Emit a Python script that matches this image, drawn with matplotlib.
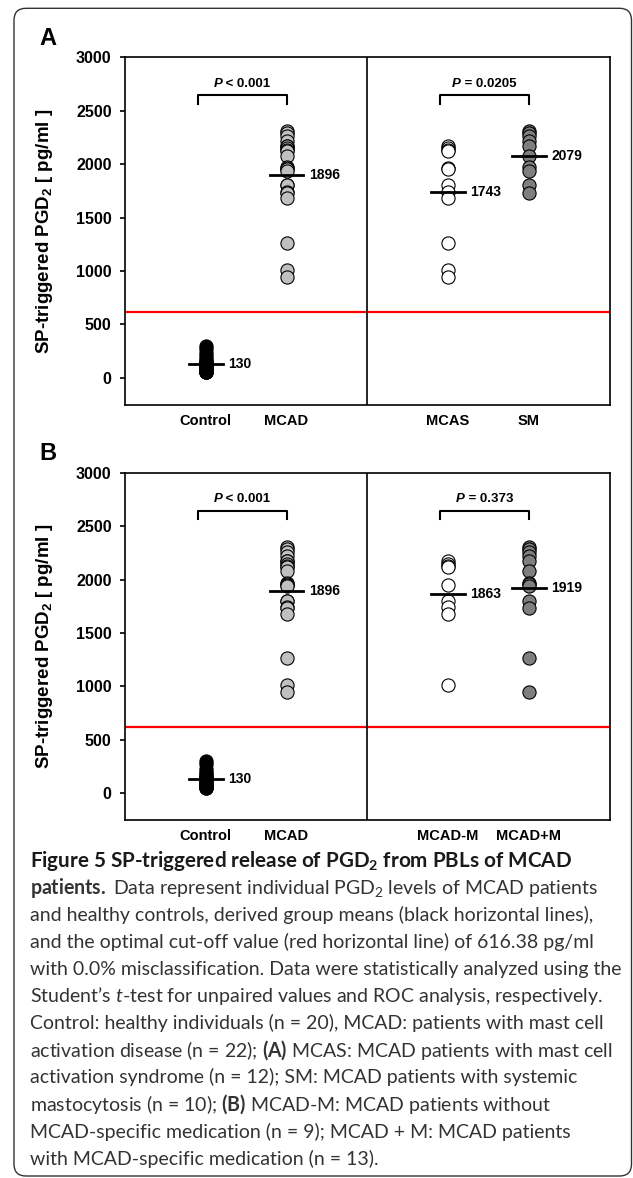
import matplotlib
matplotlib.use('Agg')
import numpy as np
import matplotlib.pyplot as plt
from matplotlib.offsetbox import TextArea, HPacker, AnnotationBbox
from matplotlib.patches import FancyBboxPatch
from matplotlib.transforms import IdentityTransform

plt.rcParams['font.family'] = ['Liberation Sans', 'DejaVu Sans']
plt.rcParams['mathtext.fontset'] = 'custom'
plt.rcParams['mathtext.rm'] = 'Lato'
plt.rcParams['mathtext.bf'] = 'Lato:bold'
plt.rcParams['mathtext.it'] = 'Lato:italic'
plt.rcParams['mathtext.default'] = 'regular'

# --- data (pg/ml)
control = [300, 270, 230, 200, 180, 160, 150, 140, 130, 120,
           110, 100, 90, 80, 70, 60, 55, 55, 50, 50]
mcas = [2170, 2150, 2130, 2120, 1960, 1950, 1800, 1740, 1680, 1265, 1010, 945]
sm = [2310, 2290, 2260, 2220, 2170, 2080, 1970, 1940, 1800, 1730]
mcad = [2310, 2290, 2260, 2220, 2170, 2170, 2150, 2130, 2120, 2080, 1970,
        1960, 1950, 1940, 1800, 1800, 1740, 1730, 1680, 1265, 1010, 945]
mcad_minus_m = [2170, 2150, 2130, 2120, 1950, 1800, 1740, 1680, 1010]
mcad_plus_m = [2310, 2290, 2260, 2220, 2170, 2080, 1970, 1960, 1940,
               1800, 1730, 1265, 945]

means_a = [130, 1896, 1743, 2079]
means_b = [130, 1896, 1863, 1919]
labels_a = ['Control', 'MCAD', 'MCAS', 'SM']
labels_b = ['Control', 'MCAD', 'MCAD-M', 'MCAD+M']
pvals_a = ['< 0.001', '= 0.0205']
pvals_b = ['< 0.001', '= 0.373']
cutoff = 616.38

positions = [1, 2, 4, 5]
colors = ['black', '#c0c0c0', 'white', '#7f7f7f']

W, H = 633, 1178
fig = plt.figure(figsize=(W / 100, H / 100), dpi=100)


def panel(rect, groups, means, labels, pvals, letter, letter_y):
    ax = fig.add_axes(rect)
    for x, vals, c, m in zip(positions, groups, colors, means):
        ax.scatter(np.full(len(vals), x), vals, s=90, facecolor=c,
                   edgecolor='black', linewidth=0.8, zorder=3)
        ax.plot([x - 0.21, x + 0.21], [m, m], color='black', lw=2, zorder=4)
        ax.text(x + 0.28, m, str(m), ha='left', va='center',
                fontsize=10, weight='bold')
    ax.axhline(cutoff, color='#ff0000', lw=1.6, zorder=2)
    ax.axvline(3, color='black', lw=1.2)
    for (x0, x1), p in zip([(0.9, 2.0), (3.9, 5.0)], pvals):
        ax.plot([x0, x0, x1, x1], [2565, 2645, 2645, 2565], color='black', lw=1.5)
        box = HPacker(children=[
            TextArea('P', textprops=dict(style='italic', weight='bold', fontsize=9.5)),
            TextArea(' ' + p, textprops=dict(weight='bold', fontsize=9.5))],
            pad=0, sep=0, align='baseline')
        ax.add_artist(AnnotationBbox(box, ((x0 + x1) / 2, 2752), frameon=False,
                                     box_alignment=(0.5, 0.5)))
    ax.set_xlim(0, 6)
    ax.set_ylim(-250, 3000)
    ax.set_yticks(range(0, 3001, 500))
    ax.set_xticks(positions)
    ax.set_xticklabels(labels, fontsize=10.5, weight='bold')
    for t in ax.get_yticklabels():
        t.set_fontsize(11.5)
        t.set_fontweight('bold')
    ax.tick_params(axis='x', length=0, pad=6.5)
    ax.tick_params(axis='y', length=3.6, width=1.2, pad=6)
    for s in ax.spines.values():
        s.set_linewidth(1.2)
    ax.set_ylabel('SP-triggered PGD$_2$ [ pg/ml ]', fontsize=13.5, weight='bold')
    ax.yaxis.set_label_coords(-0.145, 0.5)
    fig.text(39 / W, 1 - letter_y / H, letter, fontsize=17, weight='bold',
             ha='left', va='baseline')
    return ax


left, width = 125 / W, 484.5 / W
height = 347.2 / H
panel([left, 1 - 404.5 / H, width, height], [control, mcad, mcas, sm],
      means_a, labels_a, pvals_a, 'A', 45)
panel([left, 1 - 820 / H, width, height], [control, mcad, mcad_minus_m, mcad_plus_m],
      means_b, labels_b, pvals_b, 'B', 460)

# caption
title = 'Figure 5 SP-triggered release of PGD$_2$ from PBLs of MCAD'
body = [
    '$\\mathbf{patients.}$Data represent individual PGD$_2$ levels of MCAD patients',
    'and healthy controls, derived group means (black horizontal lines),',
    'and the optimal cut-off value (red horizontal line) of 616.38 pg/ml',
    'with 0.0% misclassification. Data were statistically analyzed using the',
    'Student\u2019s $\\mathit{t}$-test for unpaired values and ROC analysis, respectively.',
    'Control: healthy individuals (n = 20), MCAD: patients with mast cell',
    'activation disease (n = 22); $\\mathbf{(A)}$ MCAS: MCAD patients with mast cell',
    'activation syndrome (n = 12); SM: MCAD patients with systemic',
    'mastocytosis (n = 10); $\\mathbf{(B)}$ MCAD-M: MCAD patients without',
    'MCAD-specific medication (n = 9); MCAD + M: MCAD patients',
    'with MCAD-specific medication (n = 13).',
]

renderer = fig.canvas.get_renderer()
probe = fig.text(0, 0, body[3], family='Lato', fontsize=12)
cap_size = 12 * 591 / probe.get_window_extent(renderer).width
probe.remove()
probe = fig.text(0, 0, title, family='Lato', weight='bold', fontsize=12)
title_size = 12 * 541 / probe.get_window_extent(renderer).width
probe.remove()

fig.text(30.5 / W, 1 - 866.7 / H, title, family='Lato', fontsize=title_size,
         weight='bold', ha='left', va='baseline', color='#1a1a1a')
body[0] = body[0].replace('$Data', '$ Data')
for i, line in enumerate(body, start=1):
    fig.text(30.5 / W, 1 - (866.7 + i * 27.1) / H, line, family='Lato',
             fontsize=cap_size, ha='left', va='baseline', color='#333333')

border = FancyBboxPatch((14, 2), 617.5, 1167.7,
                        boxstyle='round,pad=0,rounding_size=12',
                        transform=IdentityTransform(), facecolor='none',
                        edgecolor='#333333', lw=1)
fig.add_artist(border)

fig.savefig('out.png', dpi=100)
